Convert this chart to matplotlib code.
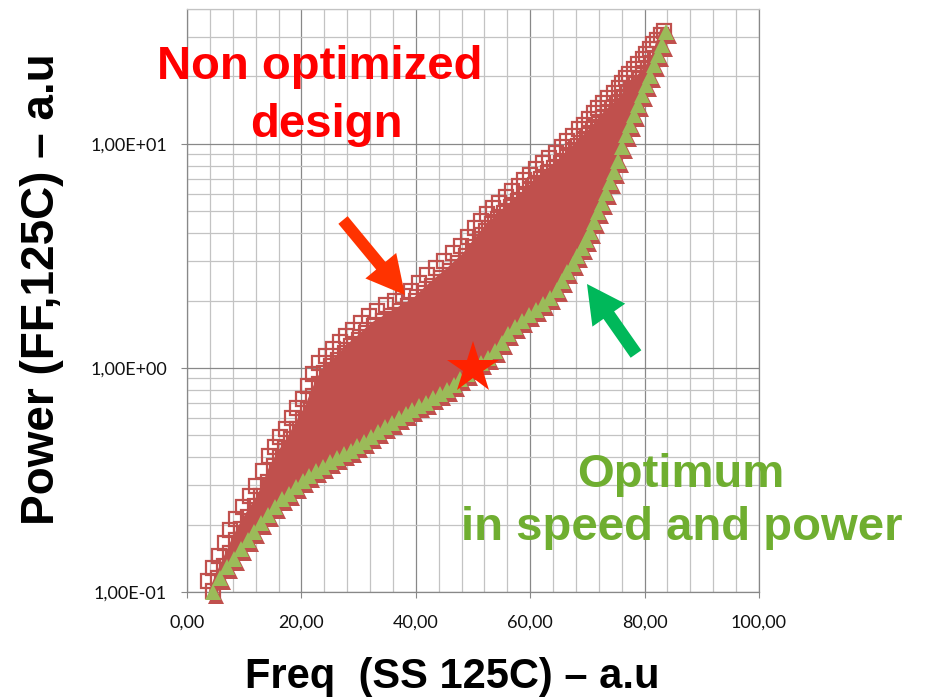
import matplotlib
matplotlib.use("Agg")
import numpy as np
import matplotlib.pyplot as plt
from matplotlib.patches import FancyArrow
from matplotlib.transforms import IdentityTransform, ScaledTranslation
from matplotlib.ticker import MultipleLocator, LogLocator, NullFormatter

plt.rcParams['font.family'] = ['Liberation Sans', 'DejaVu Sans']

# ---- data -------------------------------------------------------------
# Pareto-optimal designs (best power for a given frequency)
opt_freq = [4.6, 5.8, 7.0, 8.2, 9.4, 10.6, 11.8, 13.0, 14.2, 15.4, 16.6, 17.8,
            19.0, 20.2, 21.4, 22.6, 23.8, 25.0, 26.2, 27.4, 28.6, 29.8, 31.0,
            32.2, 33.4, 34.6, 35.8, 37.0, 38.2, 39.4, 40.6, 41.8, 43.0, 44.2,
            45.4, 46.6, 47.8, 49.0, 50.2, 51.4, 52.6, 53.8, 55.0, 56.2, 57.4,
            58.6, 59.8, 61.0, 62.2, 63.4, 64.6, 65.6, 66.5, 67.4, 68.2, 69.0,
            69.8, 70.5, 71.2, 71.9, 72.6, 73.3, 74.0, 74.7, 75.4, 76.1, 76.8,
            77.5, 78.2, 78.9, 79.6, 80.3, 81.0, 81.7, 82.4, 83.1, 83.8]
opt_power = [0.100, 0.115, 0.129, 0.141, 0.155, 0.170, 0.186, 0.204, 0.221,
             0.240, 0.260, 0.275, 0.295, 0.313, 0.331, 0.347, 0.363, 0.380,
             0.398, 0.412, 0.427, 0.447, 0.468, 0.490, 0.519, 0.543, 0.569,
             0.596, 0.624, 0.646, 0.676, 0.700, 0.733, 0.767, 0.794, 0.841,
             0.891, 0.944, 1.000, 1.047, 1.109, 1.189, 1.288, 1.413, 1.531,
             1.622, 1.718, 1.820, 1.928, 2.042, 2.239, 2.455, 2.692, 2.917,
             3.162, 3.428, 3.715, 4.027, 4.467, 4.955, 5.433, 6.026, 6.761,
             7.499, 8.414, 9.661, 10.96, 12.16, 13.49, 14.96, 16.60, 18.41,
             20.18, 22.39, 24.83, 27.54, 31.62]

# Least efficient design variant (upper edge of the design space)
top_freq = [3.7, 4.6, 5.6, 6.6, 7.6, 8.6, 9.8, 11.0, 12.1, 13.2, 14.3, 15.3,
            16.3, 17.3, 18.3, 19.3, 20.3, 21.2, 22.1, 23.1, 24.3, 25.5, 26.7,
            27.8, 29.1, 30.4, 31.8, 33.3, 34.8, 36.3, 37.8, 39.2, 40.6, 42.0,
            43.5, 45.0, 46.5, 47.9, 49.1, 50.3, 51.4, 52.5, 53.5, 54.5, 55.7,
            56.9, 58.0, 59.0, 60.0, 61.0, 62.2, 63.3, 64.5, 65.5, 66.5, 67.5,
            68.5, 69.4, 70.3, 71.1, 71.9, 72.7, 73.6, 74.6, 75.5, 76.1, 76.7,
            77.3, 78.1, 78.9, 79.7, 80.3, 80.9, 81.5, 82.1, 82.8, 83.4]
top_power = [0.112, 0.128, 0.145, 0.166, 0.189, 0.212, 0.240, 0.268, 0.297,
             0.345, 0.404, 0.445, 0.490, 0.534, 0.595, 0.660, 0.728, 0.830,
             0.940, 1.05, 1.13, 1.21, 1.30, 1.39, 1.48, 1.59, 1.71, 1.80, 1.90,
             2.00, 2.10, 2.21, 2.40, 2.59, 2.79, 3.00, 3.25, 3.51, 3.85, 4.20,
             4.53, 4.85, 5.15, 5.46, 5.80, 6.15, 6.49, 6.90, 7.30, 7.73, 8.20,
             8.65, 9.12, 9.70, 10.3, 10.9, 11.6, 12.2, 12.9, 13.7, 14.4, 15.2,
             16.0, 16.9, 17.8, 18.7, 19.6, 20.5, 21.6, 22.7, 23.9, 25.2, 26.5,
             27.9, 29.2, 30.5, 31.9]

# Next design variant below it
inner_freq = [4.6, 5.5, 6.5, 7.5, 8.5, 9.5, 10.7, 11.9, 13.0, 14.1, 15.2, 16.2,
              17.2, 18.2, 19.2, 20.2, 21.2, 22.1, 23.0, 24.0, 25.2, 26.4, 27.6,
              28.7, 30.0, 31.3, 32.7, 34.2, 35.7, 37.2, 38.7, 40.1, 41.5, 42.9,
              44.4, 45.9, 47.4, 48.8, 50.0, 51.2, 52.3, 53.4, 54.4, 55.4, 56.6,
              57.8, 58.9, 59.9, 60.9, 61.9, 63.1, 64.2, 65.4, 66.4, 67.4, 68.4,
              69.4, 70.3, 71.2, 72.0, 72.8, 73.6, 74.5, 75.5, 76.4, 77.0, 77.6,
              78.2, 79.0, 79.8, 80.6, 81.2, 81.8]
inner_power = [0.101, 0.115, 0.131, 0.149, 0.170, 0.191, 0.216, 0.241, 0.267,
               0.311, 0.364, 0.401, 0.441, 0.481, 0.536, 0.594, 0.655, 0.747,
               0.846, 0.945, 1.02, 1.09, 1.17, 1.25, 1.33, 1.43, 1.54, 1.62,
               1.71, 1.80, 1.89, 1.99, 2.16, 2.33, 2.51, 2.70, 2.93, 3.16, 3.47,
               3.78, 4.08, 4.37, 4.64, 4.91, 5.22, 5.54, 5.84, 6.21, 6.57, 6.96,
               7.38, 7.79, 8.21, 8.73, 9.27, 9.81, 10.4, 11.0, 11.6, 12.3, 13.0,
               13.7, 14.4, 15.2, 16.0, 16.8, 17.6, 18.5, 19.4, 20.4, 21.5, 22.7,
               23.9]

# Reference design point
ref_freq = [50.0]
ref_power = [1.0]

x_ticks = [0, 20, 40, 60, 80, 100]
x_tick_labels = ["0,00", "20,00", "40,00", "60,00", "80,00", "100,00"]
y_ticks = [0.1, 1.0, 10.0]
y_tick_labels = ["1,00E-01", "1,00E+00", "1,00E+01"]

# ---- styling ----------------------------------------------------------
RED = "#C0504D"
GREEN = "#9BBB59"
MAJOR_GRID = "#888888"
MINOR_GRID = "#C3C3C3"

W, H = 925, 700
fig = plt.figure(figsize=(W / 100, H / 100), dpi=100)
ax = fig.add_axes([187 / W, 1 - 592 / H, (759 - 187) / W, (592 - 9) / H])

ax.set_xscale("linear")
ax.set_yscale("log")
ax.set_xlim(0, 100)
ax.set_ylim(0.1, 40)

ax.set_xticks(x_ticks, labels=x_tick_labels)
ax.set_yticks(y_ticks, labels=y_tick_labels)
ax.xaxis.set_minor_locator(MultipleLocator(4))
ax.yaxis.set_minor_locator(LogLocator(base=10, subs=np.arange(2, 10)))
ax.yaxis.set_minor_formatter(NullFormatter())

ax.set_axisbelow(True)
ax.grid(which="minor", color=MINOR_GRID, linewidth=0.9)
ax.grid(which="major", color=MAJOR_GRID, linewidth=0.9)
ax.tick_params(which="minor", length=0)
ax.tick_params(which="major", direction="out", length=4.5, color=MAJOR_GRID,
               labelsize=13, labelcolor="#111111")
ax.tick_params(axis="y", pad=10)
ax.tick_params(axis="x", pad=12)
for lab in ax.get_xticklabels() + ax.get_yticklabels():
    lab.set_family(["Lato", "DejaVu Sans"])

for side in ("left", "bottom", "right"):
    ax.spines[side].set_color(MAJOR_GRID)
    ax.spines[side].set_linewidth(0.9)
ax.spines["top"].set_color(MINOR_GRID)
ax.spines["top"].set_linewidth(0.9)

# Solid body of the design cloud: between the inner variant and the optimum
body_x = inner_freq + [top_freq[-1]] + opt_freq[::-1]
body_y = inner_power + [top_power[-1]] + opt_power[::-1]
ax.fill(body_x, body_y, facecolor=RED, edgecolor=RED, linewidth=6,
        joinstyle="round", zorder=2)

# Hollow square markers of the design points
for fx, py in ((top_freq, top_power), (inner_freq, inner_power)):
    ax.plot(fx, py, linestyle="none", marker="s", markersize=10.5,
            markerfacecolor="none", markeredgecolor=RED, markeredgewidth=1.6,
            zorder=3, clip_on=False)

# Optimum designs: green triangles with the red design marker just behind
shift = ax.transData + ScaledTranslation(3 / 100, -4 / 100, fig.dpi_scale_trans)
ax.plot(opt_freq, opt_power, linestyle="none", marker="^", markersize=11.5,
        color=RED, markeredgewidth=0, transform=shift, zorder=3, clip_on=False)
ax.plot(opt_freq, opt_power, linestyle="none", marker="^", markersize=11.5,
        color=GREEN, markeredgewidth=0, zorder=4, clip_on=False)

# Reference point
ax.plot(ref_freq, ref_power, linestyle="none", marker="*", markersize=39,
        color="#FF2200", markeredgewidth=0, zorder=6)

# Axis titles
fig.text(452 / W, 1 - 688 / H, "Freq  (SS 125C) \u2013 a.u", fontsize=30,
         fontweight="bold", ha="center", va="baseline")
fig.text(42 / W, 1 - 289 / H, "Power (FF,125C) \u2013 a.u", fontsize=33,
         fontweight="bold", ha="center", va="center", rotation=90)

# Annotations
fig.text(320 / W, 1 - 79 / H, "Non optimized", fontsize=34, fontweight="bold",
         color="#FF0000", ha="center", va="baseline", zorder=7)
fig.text(326 / W, 1 - 137 / H, "design", fontsize=34, fontweight="bold",
         color="#FF0000", ha="center", va="baseline", zorder=7)
fig.text(681 / W, 1 - 487 / H, "Optimum", fontsize=34, fontweight="bold",
         color="#6FAE30", ha="center", va="baseline", zorder=7)
fig.text(682 / W, 1 - 540 / H, "in speed and power", fontsize=34,
         fontweight="bold", color="#6FAE30", ha="center", va="baseline",
         zorder=7)

# Arrows (figure pixel coordinates, origin bottom-left)
fig.add_artist(FancyArrow(343, H - 220, 62, -75, width=12, head_width=40,
                          head_length=38, length_includes_head=True,
                          color="#FF3300", linewidth=0,
                          transform=IdentityTransform(), zorder=8))
fig.add_artist(FancyArrow(636, H - 354, -49, 70, width=13, head_width=40,
                          head_length=38, length_includes_head=True,
                          color="#00B85A", linewidth=0,
                          transform=IdentityTransform(), zorder=8))

fig.savefig("out.png", dpi=100)
